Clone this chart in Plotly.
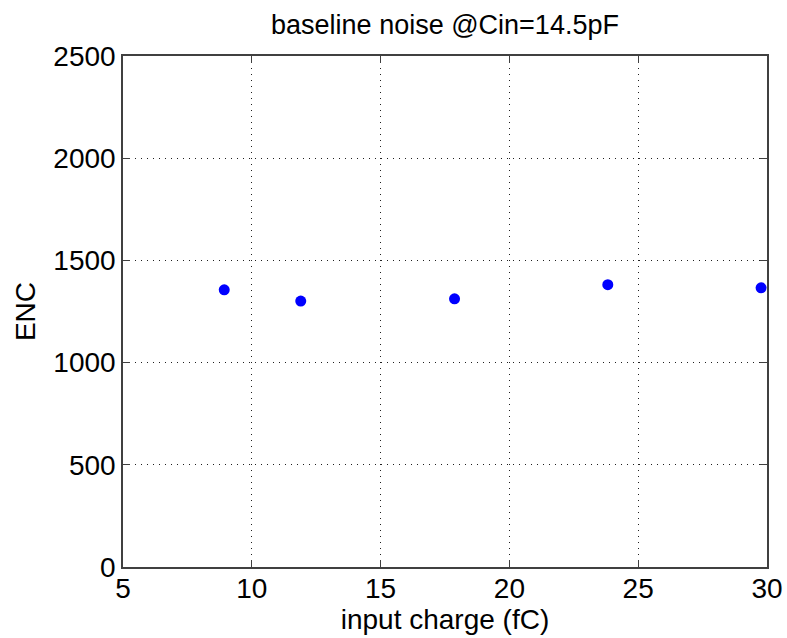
import plotly.graph_objects as go

# Input charge (fC) and measured equivalent noise charge
charge_fc = [8.93, 11.9, 17.87, 23.82, 29.77]
enc = [1356, 1301, 1312, 1381, 1366]

x_ticks = [5, 10, 15, 20, 25, 30]
y_ticks = [0, 500, 1000, 1500, 2000, 2500]

font_family = "Liberation Sans, Arial, sans-serif"
label_font = dict(family=font_family, size=28, color="black")

fig = go.Figure(
    go.Scatter(
        x=charge_fc,
        y=enc,
        mode="markers",
        marker=dict(color="#0000ff", size=11),
        showlegend=False,
        cliponaxis=False,
    )
)

axis_common = dict(
    showline=True,
    linecolor="#404040",
    linewidth=1.5,
    mirror="ticks",
    ticks="inside",
    ticklen=7,
    tickcolor="#404040",
    showgrid=True,
    gridcolor="#202020",
    gridwidth=1,
    griddash="1px,5px",
    zeroline=False,
    automargin=False,
    tickfont=label_font,
)

fig.update_xaxes(
    range=[5, 30],
    tickvals=x_ticks,
    ticklabelstandoff=-4,
    title=dict(text="input charge (fC)", font=label_font, standoff=4),
    **axis_common,
)
fig.update_yaxes(
    range=[0, 2500],
    tickvals=y_ticks,
    ticklabelstandoff=0,
    title=dict(text="ENC", font=label_font, standoff=10),
    **axis_common,
)

fig.update_layout(
    width=787,
    height=638,
    margin=dict(l=123, r=20, t=56, b=71),
    paper_bgcolor="white",
    plot_bgcolor="white",
    title=dict(
        text="baseline noise @Cin=14.5pF",
        x=0.5,
        xanchor="center",
        xref="paper",
        y=0.962,
        yanchor="middle",
        font=dict(family=font_family, size=27, color="black"),
    ),
)

fig.write_html("out.html")
